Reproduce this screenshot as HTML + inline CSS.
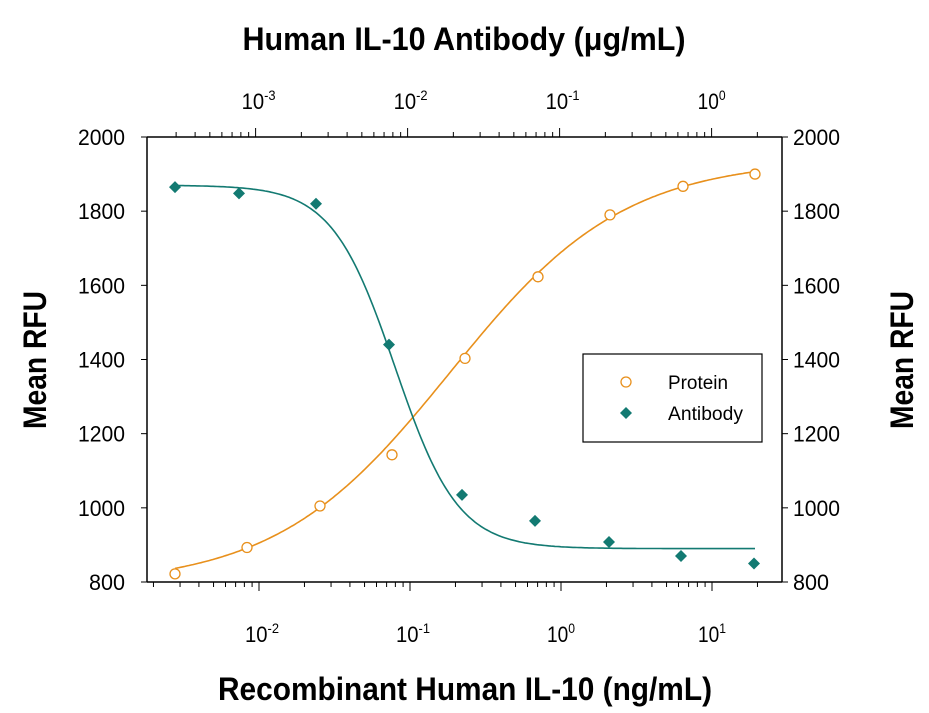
<!DOCTYPE html>
<html><head><meta charset="utf-8"><style>body{margin:0;background:#fff}svg{display:block}</style></head>
<body>
<svg id="s" width="929" height="713" xmlns="http://www.w3.org/2000/svg" font-family="Liberation Sans, sans-serif">
<rect width="929" height="713" fill="#fff"/>
<g id="g"></g>
<text x="464" y="50" text-anchor="middle" font-size="32" font-weight="bold" textLength="443" lengthAdjust="spacingAndGlyphs">Human IL-10 Antibody (μg/mL)</text>
<text x="465" y="700" text-anchor="middle" font-size="32" font-weight="bold" textLength="494" lengthAdjust="spacingAndGlyphs">Recombinant Human IL-10 (ng/mL)</text>
<text transform="translate(46,360) rotate(-90)" text-anchor="middle" font-size="32" font-weight="bold" textLength="138" lengthAdjust="spacingAndGlyphs">Mean RFU</text>
<text transform="translate(913,360) rotate(-90)" text-anchor="middle" font-size="32" font-weight="bold" textLength="138" lengthAdjust="spacingAndGlyphs">Mean RFU</text>
<rect x="583" y="354" width="179" height="88" fill="#fff" stroke="#000" stroke-width="1.2"/>
<circle cx="626" cy="382" r="5" fill="none" stroke="#e8901c" stroke-width="1.3"/>
<text x="668" y="389" font-size="19" textLength="60" lengthAdjust="spacingAndGlyphs">Protein</text>
<path d="M626 407 l6 6 l-6 6 l-6 -6z" fill="#137a72"/>
<text x="668" y="420" font-size="19" textLength="75" lengthAdjust="spacingAndGlyphs">Antibody</text>
</svg>
<script>
var g=document.getElementById('g'),h='';
var L=147,R=782,T=137,B=582;
function Y(v){return B-(v-800)*(B-T)/1200;}
h+='<line x1="'+L+'" y1="'+T+'" x2="'+R+'" y2="'+T+'" stroke="#000" stroke-width="1.5"/>';
h+='<line x1="'+L+'" y1="'+B+'" x2="'+R+'" y2="'+B+'" stroke="#000" stroke-width="1.5"/>';
h+='<line x1="'+L+'" y1="'+T+'" x2="'+L+'" y2="'+B+'" stroke="#000" stroke-width="1.5"/>';
h+='<line x1="'+R+'" y1="'+T+'" x2="'+R+'" y2="'+B+'" stroke="#000" stroke-width="1.5"/>';
for(var v=800;v<=2000;v+=200){var y=Y(v);var tl=v>=1000?47:36;
h+='<line x1="'+(L-6)+'" y1="'+y+'" x2="'+L+'" y2="'+y+'" stroke="#000"/>';
h+='<line x1="'+R+'" y1="'+y+'" x2="'+(R+6)+'" y2="'+y+'" stroke="#000"/>';
h+='<text x="125" y="'+(y+8)+'" text-anchor="end" font-size="22" textLength="'+tl+'" lengthAdjust="spacingAndGlyphs">'+v+'</text>';
h+='<text x="793" y="'+(y+8)+'" font-size="22" textLength="'+tl+'" lengthAdjust="spacingAndGlyphs">'+v+'</text>';}
function axis(d0,dx,ax,dir,labs,ly){
 for(var d=-5;d<=2;d++)for(var m=1;m<10;m++){var x=d0+(d+Math.log10(m))*dx;if(x<L+3||x>R-3)continue;
  var len=m==1?9:5;h+='<line x1="'+x+'" y1="'+ax+'" x2="'+x+'" y2="'+(ax+dir*len)+'" stroke="#000"/>';}
 labs.forEach(function(e){var x=d0+e*dx;h+='<text x="'+(x-14)+'" y="'+ly+'" font-size="22" textLength="'+(e<0?34:28)+'" lengthAdjust="spacingAndGlyphs">10<tspan font-size="14" dy="-9">'+e+'</tspan></text>';});
}
axis(711.6,152,T,-1,[-3,-2,-1,0],109);
axis(561,151,B,1,[-2,-1,0,1],642);
function curve(b,t,x0,s,inc,col){var p='';for(var x=175;x<=756;x+=2){var f=1/(1+Math.exp((inc?-1:1)*(x-x0)/s));var v=b+(t-b)*f;p+=(p?'L':'M')+x+' '+Y(v).toFixed(1);}
h+='<path d="'+p+'" fill="none" stroke="'+col+'" stroke-width="1.6"/>';}
curve(790,1940,450,87,true,'#e8901c');
curve(890,1870,395,31.5,false,'#137a72');
[[175,822],[247,893],[320,1005],[392,1143],[465,1403],[538,1623],[610,1790],[683,1867],[755,1900]].forEach(function(p){h+='<circle cx="'+p[0]+'" cy="'+Y(p[1])+'" r="5" fill="#fff" stroke="#e8901c" stroke-width="1.3"/>';});
[[175,1865],[239,1848],[316,1820],[389,1440],[462,1035],[535,965],[609,908],[681,870],[754,850]].forEach(function(p){var y=Y(p[1]);h+='<path d="M'+p[0]+' '+(y-6)+' l6 6 l-6 6 l-6 -6z" fill="#137a72"/>';});
g.innerHTML=h;
</script>
</body></html>
